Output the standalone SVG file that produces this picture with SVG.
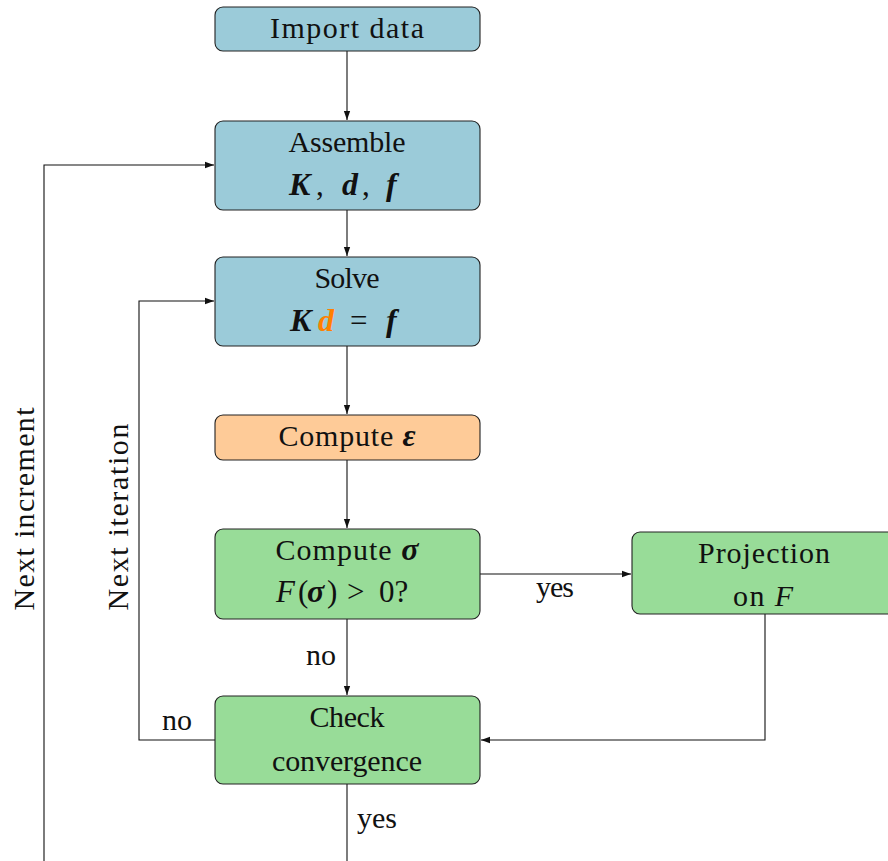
<svg xmlns="http://www.w3.org/2000/svg" width="888" height="861" viewBox="0 0 888 861">
<defs>
<style>
.box{stroke:#222;stroke-width:1.1}
.blue{fill:#9bcbd9}
.orange{fill:#fecb98}
.green{fill:#98dc98}
text{font-family:"Liberation Serif","Times New Roman",serif;font-size:30px;fill:#111;text-anchor:middle}
.s{text-anchor:start;font-size:31px}
.m{font-style:italic;font-weight:bold;font-size:32px}
.i{font-style:italic}
.c line,.c polyline{stroke:#111;stroke-width:1.1;fill:none}
</style>
<marker id="ah" viewBox="0 0 10 10" refX="10" refY="5" markerWidth="9" markerHeight="9" markerUnits="userSpaceOnUse" orient="auto">
<path d="M0,1.5 L10,5 L0,8.5 z" fill="#111"/>
</marker>
</defs>
<g id="connectors" class="c">
<line x1="347" y1="51" x2="347" y2="120" marker-end="url(#ah)"/>
<line x1="347" y1="210" x2="347" y2="256" marker-end="url(#ah)"/>
<line x1="347" y1="346" x2="347" y2="414" marker-end="url(#ah)"/>
<line x1="347" y1="460" x2="347" y2="528" marker-end="url(#ah)"/>
<line x1="347" y1="619" x2="347" y2="695" marker-end="url(#ah)"/>
<line x1="347" y1="784" x2="347" y2="861"/>
<line x1="480" y1="574" x2="631" y2="574" marker-end="url(#ah)"/>
<polyline points="765,614 765,740 481,740" marker-end="url(#ah)"/>
<polyline points="215,740 139,740 139,301 214,301" marker-end="url(#ah)"/>
<polyline points="44,861 44,165 214,165" marker-end="url(#ah)"/>
</g>
<g id="labels">
<text x="555" y="597" textLength="38">yes</text>
<text x="321" y="665" textLength="30">no</text>
<text x="177" y="730" textLength="30">no</text>
<text x="377" y="828" textLength="40">yes</text>
<text transform="translate(34,509) rotate(-90)" textLength="203">Next increment</text>
<text transform="translate(128,517) rotate(-90)" textLength="187">Next iteration</text>
</g>
<g id="import">
<rect class="box blue" x="215" y="7" width="265" height="44" rx="8"/>
<text x="347" y="38" textLength="154">Import data</text>
</g>
<g id="assemble">
<rect class="box blue" x="215" y="121" width="265" height="89" rx="8"/>
<text x="347" y="152" textLength="117">Assemble</text>
<text class="s" y="195"><tspan class="m" x="289">K</tspan><tspan x="316">,</tspan><tspan class="m" x="342">d</tspan><tspan x="362">,</tspan><tspan class="m" x="386">f</tspan></text>
</g>
<g id="solve">
<rect class="box blue" x="215" y="257" width="265" height="89" rx="8"/>
<text x="347" y="288" textLength="65">Solve</text>
<text class="s" y="331"><tspan class="m" x="290">K</tspan><tspan class="m" fill="#ff8000" x="318">d</tspan><tspan x="350">=</tspan><tspan class="m" x="386">f</tspan></text>
</g>
<g id="strain">
<rect class="box orange" x="215" y="415" width="265" height="45" rx="8"/>
<text x="347" y="446" textLength="137">Compute <tspan class="m">ε</tspan></text>
</g>
<g id="stress">
<rect class="box green" x="215" y="529" width="265" height="90" rx="8"/>
<text x="347" y="560" textLength="143">Compute <tspan class="m">σ</tspan></text>
<text class="s" y="602"><tspan class="i" x="276">F</tspan><tspan x="298">(</tspan><tspan class="m" x="307">σ</tspan><tspan x="327">)</tspan><tspan x="347">&gt;</tspan><tspan x="379">0?</tspan></text>
</g>
<g id="projection">
<rect class="box green" x="632" y="532" width="270" height="82" rx="8"/>
<text x="764" y="563" textLength="132">Projection</text>
<text x="763" y="606" textLength="60">on <tspan class="i">F</tspan></text>
</g>
<g id="check">
<rect class="box green" x="215" y="696" width="265" height="88" rx="8"/>
<text x="347" y="727" textLength="75">Check</text>
<text x="347" y="771" textLength="150">convergence</text>
</g>
</svg>
